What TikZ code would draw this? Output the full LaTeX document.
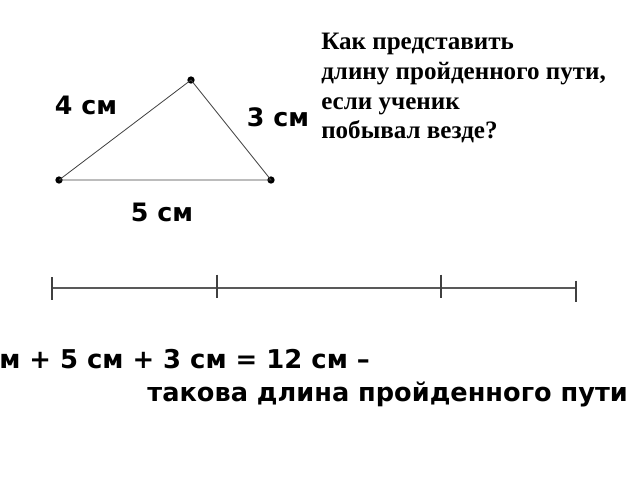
\documentclass[tikz,border=0pt]{standalone}
\usepackage{fontspec}
\setmainfont{Liberation Serif}
\newfontfamily\lblfont{DejaVu Sans}
\begin{document}
\begin{tikzpicture}[x=0.75pt,y=-0.75pt,
  edge/.style={draw=black!75, line width=0.6pt},
  vdot/.style={circle, fill=black, inner sep=0pt, minimum size=5.5pt},
  lbl/.style={font=\lblfont\bfseries\fontsize{19}{22}\selectfont, inner sep=0pt},
  qtext/.style={font=\bfseries\fontsize{18.8}{22.3}\selectfont, align=left, inner sep=0pt, anchor=north west},
  seg/.style={draw=black!65, line width=0.8pt},
  tick/.style={draw=black!75, line width=0.8pt}]
\useasboundingbox (0,0) rectangle (640,480);
% triangle
\node[vdot] (T) at (191,80) {};
\node[vdot] (L) at (59,180) {};
\node[vdot] (R) at (271,180) {};
\draw[edge] (L.center) -- (T.center) -- (R.center) -- (L.center);
\node[lbl] (l4) at (86,105) {4 см};
\node[lbl] (l3) at (278,117) {3 см};
\node[lbl] (l5) at (162,212) {5 см};
% question
\node[qtext] (q) at (321,33) {Как представить\\длину пройденного пути,\\если ученик\\побывал везде?};
% number line
\coordinate (p0) at (52,288);
\coordinate (p1) at (217,288);
\coordinate (p2) at (441,288);
\coordinate (p3) at (576,288);
\draw[seg] (p0) -- (p1) -- (p2) -- (p3);
\draw[tick] ([yshift=8.25pt]p0) -- ([yshift=-9pt]p0);
\draw[tick] ([yshift=10pt]p1) -- ([yshift=-7.5pt]p1);
\draw[tick] ([yshift=10pt]p2) -- ([yshift=-7.5pt]p2);
\draw[tick] ([yshift=5.5pt]p3) -- ([yshift=-10.5pt]p3);
% result
\node[lbl, font=\lblfont\bfseries\fontsize{19.4}{22}\selectfont, anchor=base west] (s1) at (-1,368) {м + 5 см + 3 см = 12 см –};
\node[lbl, font=\lblfont\bfseries\fontsize{19.2}{22}\selectfont, anchor=base east] (s2) at (628,401) {такова длина пройденного пути};
\end{tikzpicture}
\end{document}
